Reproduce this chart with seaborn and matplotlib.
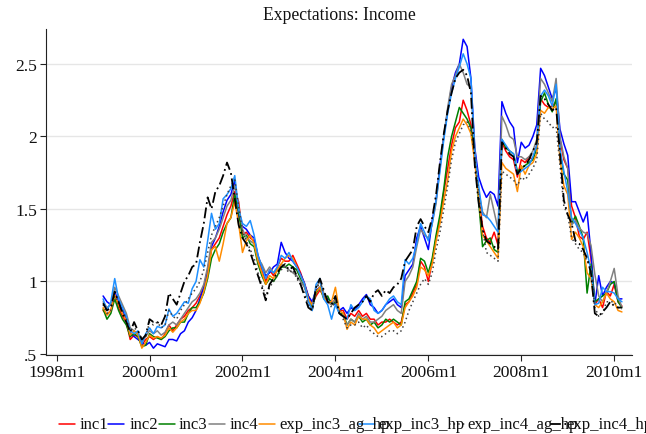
import numpy as np
import pandas as pd
import matplotlib
matplotlib.use("Agg")
import matplotlib.pyplot as plt
from matplotlib.lines import Line2D
import seaborn as sns

# Monthly index in Stata convention (months since 1960m1); 1999m1 = 468
start_month = 468

inc1 = [0.80, 0.77, 0.80, 0.92, 0.82, 0.76, 0.72, 0.60, 0.63, 0.62, 0.56, 0.60, 0.62, 0.60, 0.62, 0.60, 0.64, 0.70, 0.66, 0.70, 0.74, 0.76, 0.80, 0.82,
        0.85, 0.90, 0.96, 1.06, 1.22, 1.26, 1.30, 1.38, 1.46, 1.52, 1.62, 1.55, 1.32, 1.34, 1.30, 1.28, 1.16, 1.08, 1.00, 1.08, 1.04, 1.10, 1.16, 1.14,
        1.14, 1.18, 1.12, 1.06, 0.98, 0.90, 0.84, 0.90, 0.94, 0.90, 0.86, 0.84, 0.88, 0.80, 0.80, 0.74, 0.78, 0.76, 0.80, 0.76, 0.78, 0.74, 0.74, 0.70,
        0.72, 0.72, 0.74, 0.72, 0.70, 0.72, 0.84, 0.86, 0.92, 0.98, 1.14, 1.10, 1.00, 1.14, 1.30, 1.42, 1.62, 1.78, 1.94, 2.06, 2.10, 2.25, 2.18, 2.08,
        1.84, 1.60, 1.38, 1.30, 1.27, 1.34, 1.25, 1.96, 1.90, 1.86, 1.84, 1.72, 1.84, 1.82, 1.86, 1.84, 1.94, 2.26, 2.22, 2.20, 2.21, 2.24, 1.98, 1.84,
        1.78, 1.52, 1.44, 1.31, 1.29, 1.34, 1.16, 0.84, 0.88, 0.82, 0.93, 0.90, 0.98, 0.86, 0.83]

inc2 = [0.90, 0.86, 0.84, 0.93, 0.86, 0.80, 0.74, 0.64, 0.62, 0.60, 0.58, 0.56, 0.58, 0.54, 0.57, 0.56, 0.55, 0.60, 0.60, 0.59, 0.64, 0.66, 0.72, 0.75,
        0.80, 0.88, 0.96, 1.08, 1.24, 1.30, 1.38, 1.48, 1.56, 1.60, 1.70, 1.45, 1.38, 1.36, 1.32, 1.30, 1.18, 1.10, 1.04, 1.06, 1.10, 1.12, 1.27, 1.20,
        1.16, 1.14, 1.10, 1.05, 0.99, 0.90, 0.86, 0.94, 0.96, 0.90, 0.88, 0.86, 0.84, 0.80, 0.82, 0.78, 0.82, 0.80, 0.84, 0.88, 0.91, 0.84, 0.82, 0.78,
        0.80, 0.84, 0.86, 0.88, 0.84, 0.82, 1.04, 1.08, 1.12, 1.30, 1.38, 1.30, 1.22, 1.42, 1.56, 1.80, 2.00, 2.18, 2.34, 2.44, 2.50, 2.67, 2.62, 2.40,
        1.92, 1.72, 1.64, 1.58, 1.62, 1.60, 1.52, 2.24, 2.16, 2.10, 2.06, 1.82, 1.96, 1.92, 1.94, 2.00, 2.08, 2.47, 2.42, 2.34, 2.26, 2.33, 2.05, 1.95,
        1.87, 1.55, 1.55, 1.48, 1.41, 1.48, 1.20, 0.84, 1.04, 0.90, 0.96, 1.00, 0.99, 0.88, 0.88]

inc3 = [0.81, 0.74, 0.78, 0.88, 0.80, 0.74, 0.70, 0.62, 0.64, 0.62, 0.55, 0.56, 0.64, 0.62, 0.61, 0.60, 0.62, 0.66, 0.68, 0.68, 0.72, 0.72, 0.78, 0.82,
        0.82, 0.86, 0.92, 1.02, 1.16, 1.22, 1.26, 1.34, 1.40, 1.44, 1.60, 1.48, 1.30, 1.32, 1.26, 1.24, 1.12, 1.04, 0.98, 1.02, 1.00, 1.04, 1.10, 1.10,
        1.12, 1.10, 1.08, 1.02, 0.97, 0.88, 0.82, 0.92, 0.96, 0.88, 0.90, 0.84, 0.86, 0.78, 0.78, 0.70, 0.74, 0.72, 0.76, 0.72, 0.74, 0.70, 0.72, 0.68,
        0.70, 0.74, 0.72, 0.74, 0.72, 0.70, 0.86, 0.88, 0.94, 1.00, 1.16, 1.14, 1.06, 1.16, 1.32, 1.46, 1.64, 1.86, 2.00, 2.10, 2.20, 2.16, 2.12, 2.06,
        1.86, 1.55, 1.24, 1.28, 1.30, 1.22, 1.20, 1.98, 1.92, 1.90, 1.88, 1.76, 1.78, 1.80, 1.82, 1.84, 1.92, 2.24, 2.30, 2.22, 2.17, 2.26, 1.90, 1.74,
        1.70, 1.40, 1.45, 1.38, 1.30, 0.92, 1.12, 0.86, 0.88, 0.90, 0.92, 0.98, 1.00, 0.86, 0.82]

inc4 = [0.86, 0.82, 0.84, 0.96, 0.90, 0.84, 0.78, 0.68, 0.66, 0.63, 0.58, 0.62, 0.66, 0.64, 0.66, 0.63, 0.65, 0.70, 0.72, 0.70, 0.74, 0.78, 0.82, 0.86,
        0.88, 0.92, 0.98, 1.10, 1.27, 1.30, 1.36, 1.44, 1.52, 1.56, 1.66, 1.52, 1.36, 1.30, 1.28, 1.26, 1.16, 1.12, 1.06, 1.10, 1.06, 1.08, 1.12, 1.10,
        1.08, 1.06, 1.04, 1.00, 0.96, 0.88, 0.80, 0.96, 1.00, 0.92, 0.86, 0.84, 0.88, 0.78, 0.76, 0.70, 0.74, 0.72, 0.78, 0.74, 0.76, 0.72, 0.72, 0.74,
        0.76, 0.80, 0.82, 0.84, 0.80, 0.78, 1.00, 1.04, 1.10, 1.24, 1.36, 1.32, 1.30, 1.40, 1.54, 1.78, 2.00, 2.20, 2.36, 2.42, 2.50, 2.44, 2.36, 2.34,
        1.90, 1.62, 1.48, 1.44, 1.60, 1.48, 1.36, 2.14, 2.08, 2.00, 1.98, 1.86, 1.86, 1.84, 1.86, 1.90, 1.98, 2.40, 2.36, 2.30, 2.24, 2.40, 2.00, 1.86,
        1.78, 1.39, 1.42, 1.37, 1.34, 1.33, 1.25, 1.05, 0.90, 0.86, 0.92, 1.00, 1.09, 0.90, 0.82]

exp_inc3_ag_hp = [0.82, 0.77, 0.80, 0.91, 0.84, 0.78, 0.73, 0.63, 0.66, 0.64, 0.54, 0.58, 0.63, 0.61, 0.62, 0.61, 0.63, 0.68, 0.65, 0.68, 0.72, 0.74, 0.78, 0.80,
                  0.80, 0.85, 0.93, 1.04, 1.22, 1.24, 1.14, 1.26, 1.40, 1.44, 1.55, 1.40, 1.20, 1.28, 1.32, 1.26, 1.14, 1.06, 0.98, 1.04, 1.02, 1.08, 1.12, 1.16,
                  1.18, 1.16, 1.10, 1.04, 0.98, 0.88, 0.84, 0.93, 0.96, 0.89, 0.86, 0.86, 0.96, 0.80, 0.78, 0.67, 0.72, 0.70, 0.76, 0.74, 0.74, 0.70, 0.68, 0.64,
                  0.66, 0.68, 0.70, 0.72, 0.68, 0.70, 0.82, 0.86, 0.90, 0.96, 1.10, 1.08, 1.04, 1.12, 1.28, 1.40, 1.56, 1.70, 1.90, 2.00, 2.06, 2.12, 2.08, 2.02,
                  1.82, 1.58, 1.32, 1.28, 1.24, 1.20, 1.16, 1.82, 1.78, 1.76, 1.74, 1.62, 1.80, 1.74, 1.80, 1.82, 1.88, 2.18, 2.16, 2.20, 2.19, 2.21, 1.84, 1.66,
                  1.60, 1.29, 1.34, 1.30, 1.24, 1.06, 1.02, 0.84, 0.82, 0.86, 0.92, 0.88, 0.86, 0.80, 0.79]

exp_inc3_hp = [0.88, 0.80, 0.86, 1.02, 0.88, 0.82, 0.76, 0.66, 0.64, 0.66, 0.57, 0.64, 0.68, 0.64, 0.69, 0.68, 0.70, 0.81, 0.76, 0.78, 0.82, 0.86, 0.85, 0.95,
               1.00, 1.15, 1.10, 1.28, 1.47, 1.36, 1.40, 1.57, 1.60, 1.64, 1.73, 1.50, 1.40, 1.38, 1.42, 1.32, 1.18, 1.10, 1.02, 1.08, 1.06, 1.10, 1.18, 1.16,
               1.20, 1.14, 1.10, 1.04, 0.98, 0.86, 0.80, 0.98, 1.02, 0.88, 0.84, 0.74, 0.84, 0.78, 0.76, 0.74, 0.84, 0.80, 0.82, 0.86, 0.90, 0.88, 0.80, 0.78,
               0.80, 0.84, 0.88, 0.90, 0.86, 0.84, 1.15, 1.12, 1.16, 1.26, 1.40, 1.34, 1.28, 1.40, 1.56, 1.76, 1.98, 2.16, 2.30, 2.40, 2.48, 2.57, 2.50, 2.40,
               1.88, 1.66, 1.46, 1.45, 1.42, 1.38, 1.34, 1.98, 1.94, 1.90, 1.88, 1.74, 1.76, 1.78, 1.80, 1.86, 1.94, 2.28, 2.32, 2.28, 2.21, 2.36, 1.91, 1.76,
               1.62, 1.44, 1.40, 1.35, 1.30, 1.20, 1.08, 0.84, 0.85, 0.96, 0.93, 0.93, 0.92, 0.88, 0.86]

exp_inc4_ag_hp = [0.84, 0.78, 0.80, 0.90, 0.84, 0.80, 0.74, 0.66, 0.68, 0.66, 0.60, 0.62, 0.72, 0.70, 0.72, 0.68, 0.70, 0.80, 0.76, 0.74, 0.80, 0.84, 0.88, 0.92,
                  0.95, 1.00, 1.08, 1.20, 1.32, 1.38, 1.44, 1.52, 1.60, 1.66, 1.70, 1.52, 1.34, 1.28, 1.22, 1.16, 1.06, 0.98, 0.90, 0.96, 1.00, 1.04, 1.08, 1.10,
                  1.06, 1.08, 1.02, 0.98, 0.92, 0.84, 0.80, 0.94, 1.00, 0.92, 0.88, 0.82, 0.86, 0.80, 0.74, 0.68, 0.70, 0.70, 0.72, 0.68, 0.70, 0.66, 0.64, 0.62,
                  0.62, 0.64, 0.66, 0.66, 0.64, 0.66, 0.72, 0.80, 0.86, 0.92, 0.98, 1.02, 0.98, 1.06, 1.22, 1.34, 1.50, 1.66, 1.84, 1.96, 2.02, 2.08, 2.10, 2.04,
                  1.86, 1.60, 1.36, 1.20, 1.18, 1.16, 1.14, 1.76, 1.74, 1.72, 1.70, 1.66, 1.72, 1.70, 1.74, 1.78, 1.84, 2.16, 2.12, 2.10, 2.06, 2.07, 1.80, 1.52,
                  1.46, 1.30, 1.26, 1.22, 1.20, 1.14, 1.10, 0.82, 0.76, 0.78, 0.86, 0.86, 0.86, 0.82, 0.81]

exp_inc4_hp = [0.85, 0.80, 0.82, 0.93, 0.86, 0.78, 0.72, 0.65, 0.72, 0.66, 0.60, 0.63, 0.74, 0.72, 0.72, 0.70, 0.76, 0.92, 0.88, 0.84, 0.92, 1.00, 1.04, 1.10,
               1.12, 1.27, 1.40, 1.58, 1.50, 1.62, 1.66, 1.73, 1.82, 1.75, 1.57, 1.39, 1.30, 1.26, 1.20, 1.12, 1.04, 0.96, 0.87, 0.98, 1.02, 1.06, 1.10, 1.12,
               1.08, 1.10, 1.04, 0.98, 0.90, 0.82, 0.80, 0.96, 1.02, 0.94, 0.86, 0.84, 0.90, 0.78, 0.76, 0.74, 0.78, 0.82, 0.84, 0.86, 0.90, 0.86, 0.92, 0.94,
               0.90, 0.94, 0.92, 0.96, 0.98, 1.02, 1.14, 1.18, 1.22, 1.38, 1.43, 1.38, 1.34, 1.44, 1.60, 1.82, 2.02, 2.18, 2.30, 2.40, 2.44, 2.46, 2.42, 2.30,
               1.80, 1.54, 1.36, 1.28, 1.26, 1.24, 1.22, 1.96, 1.92, 1.88, 1.86, 1.74, 1.78, 1.80, 1.84, 1.90, 1.96, 2.28, 2.26, 2.22, 2.18, 2.20, 1.88, 1.56,
               1.46, 1.40, 1.28, 1.26, 1.22, 1.16, 1.06, 0.78, 0.76, 0.79, 0.82, 0.86, 0.83, 0.82, 0.82]

series_names = ["inc1", "inc2", "inc3", "inc4",
                "exp_inc3_ag_hp", "exp_inc3_hp", "exp_inc4_ag_hp", "exp_inc4_hp"]
series_values = [inc1, inc2, inc3, inc4,
                 exp_inc3_ag_hp, exp_inc3_hp, exp_inc4_ag_hp, exp_inc4_hp]

x_tick_months = [456, 480, 504, 528, 552, 576, 600]
x_tick_labels = ["1998m1", "2000m1", "2002m1", "2004m1", "2006m1", "2008m1", "2010m1"]
y_ticks = [0.5, 1.0, 1.5, 2.0, 2.5]
y_tick_labels = [".5", "1", "1.5", "2", "2.5"]
title_text = "Expectations: Income"

# line appearance per series
colors = ["#ff0000", "#0000ff", "#008000", "#808080",
          "#ff8c00", "#1e90ff", "#404040", "#000000"]
styles = ["-", "-", "-", "-", "-", "-", (0, (1, 2)), (0, (6, 2, 1, 2))]
widths = [1.1, 1.1, 1.1, 1.1, 1.1, 1.1, 1.1, 1.3]

frames = []
for name, vals in zip(series_names, series_values):
    frames.append(pd.DataFrame({
        "month": np.arange(start_month, start_month + len(vals)),
        "value": vals,
        "series": name,
    }))
data = pd.concat(frames, ignore_index=True)

sns.set_theme(style="white")
plt.rcParams["font.family"] = ["Liberation Serif", "DejaVu Serif"]

W, H = 646, 435
fig = plt.figure(figsize=(W / 100, H / 100), dpi=100)
fig.patch.set_facecolor("white")


def fx(px):
    return px / W


def fy(py):
    return 1 - py / H


ax = fig.add_axes([fx(46), fy(356), fx(632) - fx(46), fy(30) - fy(356)])

for name, col, ls, lw in zip(series_names, colors, styles, widths):
    sub = data[data["series"] == name]
    sns.lineplot(data=sub, x="month", y="value", color=col, linestyle=ls,
                 linewidth=lw, errorbar=None, ax=ax, legend=False)

ax.set_xlim(453.25, 604.6)
ax.set_ylim(0.493, 2.741)
ax.set_xticks(x_tick_months)
ax.set_xticklabels(x_tick_labels)
ax.set_yticks(y_ticks)
ax.set_yticklabels(y_tick_labels)
ax.set_xlabel("")
ax.set_ylabel("")

ax.set_axisbelow(True)
ax.yaxis.grid(True, color="#e6e6e6", linewidth=1.0)
ax.xaxis.grid(False)
for side in ["top", "right"]:
    ax.spines[side].set_visible(False)
for side in ["left", "bottom"]:
    ax.spines[side].set_color("#222222")
    ax.spines[side].set_linewidth(0.8)
ax.tick_params(axis="both", which="both", bottom=True, left=True,
               direction="out", length=4.3, width=0.8, color="#222222",
               pad=2.2, labelsize=12.6, labelcolor="#111111")

fig.text(fx(339), fy(16), title_text, ha="center", va="center",
         fontsize=12.7, color="#111111")

# legend row below the plot: (line start, line end, text start) in pixels
legend_pos = [(59, 75, 80), (108, 124, 130), (158.5, 175, 179),
              (209, 225, 229.5), (259, 275, 279.5), (358.5, 375, 378),
              (449, 465.5, 467.5), (550, 566, 566)]
legend_y = 425
for (x0, x1, tx), name, col, ls, lw in zip(legend_pos, series_names, colors, styles, widths):
    fig.add_artist(Line2D([fx(x0), fx(x1)], [fy(legend_y), fy(legend_y)],
                          transform=fig.transFigure, color=col, linestyle=ls,
                          linewidth=lw))
    fig.text(fx(tx), fy(legend_y + 0.5), name, ha="left", va="center",
             fontsize=12.1, color="#111111")

fig.savefig("out.png", dpi=100)
